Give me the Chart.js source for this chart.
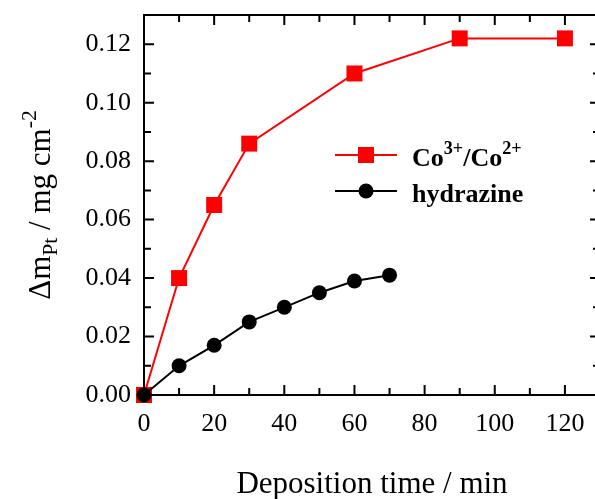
<!DOCTYPE html>
<html>
<head>
<meta charset="utf-8">
<script src="https://cdn.jsdelivr.net/npm/chart.js@4"></script>
<style>
  html, body { margin: 0; padding: 0; overflow: hidden; background: #fff; }
  #wrap { width: 612px; height: 499px; }
</style>
</head>
<body>
<div id="wrap"><canvas id="chart"></canvas></div>
<script>
// data
var coTime = [0, 10, 20, 30, 60, 90, 120];
var coMass = [0, 0.040, 0.065, 0.086, 0.110, 0.122, 0.122];
var hydTime = [0, 10, 20, 30, 40, 50, 60, 70];
var hydMass = [0, 0.010, 0.017, 0.025, 0.030, 0.035, 0.039, 0.041];
var xTicks = [0, 20, 40, 60, 80, 100, 120];
var yTicks = [0, 0.02, 0.04, 0.06, 0.08, 0.10, 0.12];

var serif = "'Liberation Serif', 'Times New Roman', serif";

function pts(xs, ys) {
  return xs.map(function (x, i) { return { x: x, y: ys[i] }; });
}

// text with sub/superscripts: parts = [[text, 'n'|'sub'|'sup'], ...]
function drawRich(ctx, parts, x, y, size, weight) {
  parts.forEach(function (p) {
    var s = p[1] === 'n' ? size : size * 0.7;
    var dy = p[1] === 'sup' ? -size * 0.45 : (p[1] === 'sub' ? size * 0.22 : 0);
    ctx.font = weight + ' ' + s + 'px ' + serif;
    ctx.fillText(p[0], x, y + dy);
    x += ctx.measureText(p[0]).width;
  });
  return x;
}
function richWidth(ctx, parts, size, weight) {
  var w = 0;
  parts.forEach(function (p) {
    var s = p[1] === 'n' ? size : size * 0.7;
    ctx.font = weight + ' ' + s + 'px ' + serif;
    w += ctx.measureText(p[0]).width;
  });
  return w;
}

var decor = {
  id: 'decor',
  afterDraw: function (chart) {
    var ctx = chart.ctx, a = chart.chartArea;
    var xs = chart.scales.x, ys = chart.scales.y;
    ctx.save();
    ctx.strokeStyle = '#000';
    ctx.lineWidth = 2;
    // frame
    ctx.strokeRect(a.left, a.top, a.right - a.left, a.bottom - a.top);
    // inward ticks on all four sides
    ctx.beginPath();
    for (var v = 0; v <= 130; v += 10) {
      var px = xs.getPixelForValue(v);
      var len = v % 20 === 0 ? 10 : 7;
      ctx.moveTo(px, a.bottom); ctx.lineTo(px, a.bottom - len);
      ctx.moveTo(px, a.top); ctx.lineTo(px, a.top + len);
    }
    for (var k = 0; k <= 13; k++) {
      var py = ys.getPixelForValue(k * 0.01);
      var l2 = k % 2 === 0 ? 10 : 7;
      ctx.moveTo(a.left, py); ctx.lineTo(a.left + l2, py);
      ctx.moveTo(a.right, py); ctx.lineTo(a.right - l2, py);
    }
    ctx.stroke();

    ctx.fillStyle = '#000';
    ctx.textBaseline = 'alphabetic';
    // x title
    ctx.font = '31px ' + serif;
    ctx.textAlign = 'center';
    ctx.fillText('Deposition time / min', (a.left + a.right) / 2, 493);
    // y title
    ctx.textAlign = 'left';
    var yParts = [['\u0394m', 'n'], ['Pt', 'sub'], [' / mg cm', 'n'], ['-2', 'sup']];
    var w = richWidth(ctx, yParts, 31, 'normal');
    ctx.translate(50, (a.top + a.bottom) / 2);
    ctx.rotate(-Math.PI / 2);
    drawRich(ctx, yParts, -w / 2, 0, 31, 'normal');
    ctx.restore();

    // legend
    ctx.save();
    var items = [
      { ds: chart.data.datasets[1], y: 155, parts: [['Co', 'n'], ['3+', 'sup'], ['/Co', 'n'], ['2+', 'sup']] },
      { ds: chart.data.datasets[0], y: 191, parts: [['hydrazine', 'n']] }
    ];
    items.forEach(function (it) {
      ctx.strokeStyle = it.ds.borderColor;
      ctx.lineWidth = 2;
      ctx.beginPath();
      ctx.moveTo(335, it.y); ctx.lineTo(397, it.y);
      ctx.stroke();
      ctx.fillStyle = it.ds.borderColor;
      if (it.ds.pointStyle === 'rect') {
        ctx.fillRect(366 - 8, it.y - 8, 16, 16);
      } else {
        ctx.beginPath(); ctx.arc(366, it.y, 7.5, 0, Math.PI * 2); ctx.fill();
      }
      ctx.fillStyle = '#000';
      ctx.textAlign = 'left';
      drawRich(ctx, it.parts, 412, it.y + 11, 26, 'bold');
    });
    ctx.restore();
  }
};

new Chart(document.getElementById('chart'), {
  type: 'line',
  data: {
    datasets: [{
      label: 'hydrazine',
      data: pts(hydTime, hydMass),
      borderColor: '#000',
      backgroundColor: '#000',
      borderWidth: 2,
      pointStyle: 'circle',
      pointRadius: 7.5,
      pointBorderWidth: 0,
      order: 0,
      clip: false
    }, {
      label: 'Co3+/Co2+',
      data: pts(coTime, coMass),
      borderColor: '#ff0000',
      backgroundColor: '#ff0000',
      borderWidth: 2,
      pointStyle: 'rect',
      pointRadius: 11.3,
      pointBorderWidth: 0,
      order: 1,
      clip: false
    }]
  },
  options: {
    responsive: true,
    maintainAspectRatio: false,
    animation: false,
    events: [],
    layout: { padding: { top: 15, right: 12, left: 0, bottom: 0 } },
    plugins: { legend: { display: false }, tooltip: { enabled: false } },
    scales: {
      x: {
        type: 'linear', min: 0, max: 130,
        afterBuildTicks: function (s) { s.ticks = xTicks.map(function (v) { return { value: v }; }); },
        afterFit: function (s) { s.height = 104; s.paddingLeft = 0; s.paddingRight = 0; },
        grid: { display: false, drawTicks: false },
        border: { display: false },
        ticks: { color: '#000', padding: 14, maxRotation: 0, font: { family: serif, size: 26 } }
      },
      y: {
        type: 'linear', min: 0, max: 0.13,
        afterBuildTicks: function (s) { s.ticks = yTicks.map(function (v) { return { value: v }; }); },
        afterFit: function (s) { s.width = 144; s.paddingTop = 0; s.paddingBottom = 0; },
        grid: { display: false, drawTicks: false },
        border: { display: false },
        ticks: {
          color: '#000', padding: 13, font: { family: serif, size: 26 },
          callback: function (v) { return v.toFixed(2); }
        }
      }
    }
  },
  plugins: [decor]
});
</script>
</body>
</html>
